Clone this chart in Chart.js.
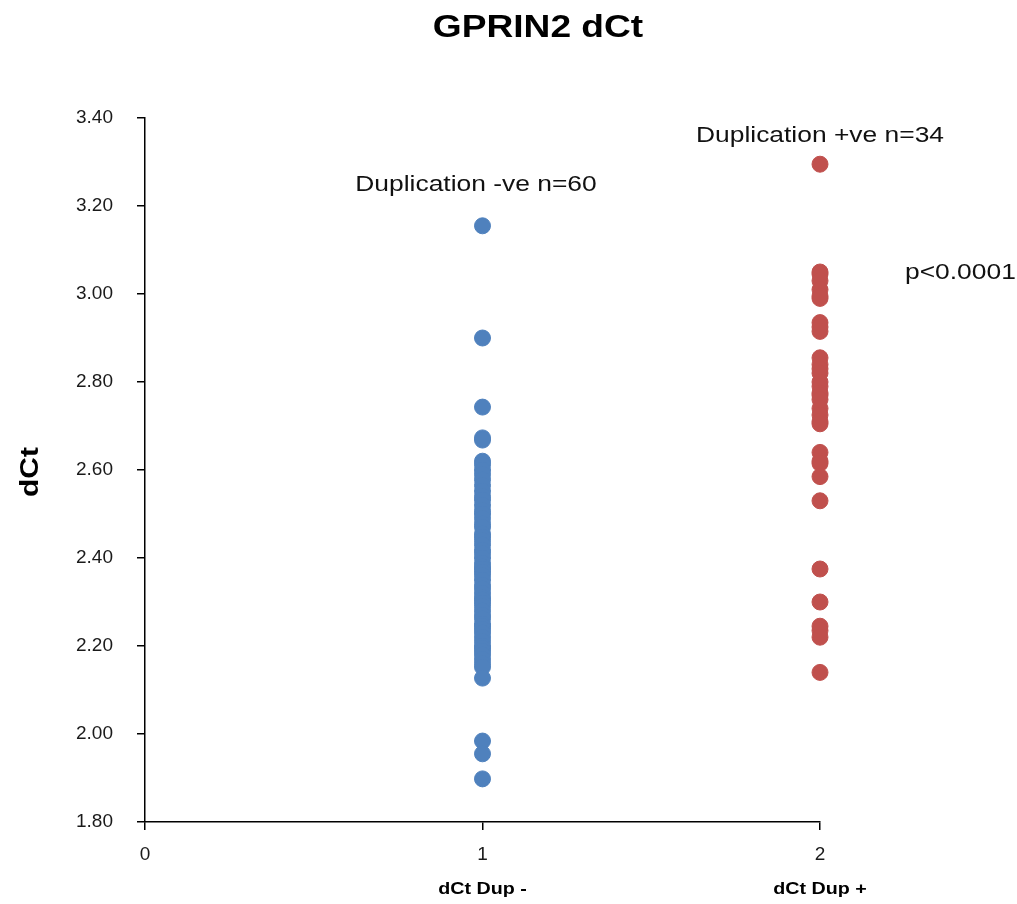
<!DOCTYPE html>
<html>
<head>
<meta charset="utf-8">
<script src="https://cdn.jsdelivr.net/npm/chart.js@4/dist/chart.umd.min.js"></script>
<style>
  html, body { margin: 0; padding: 0; background: #fff; }
  #wrap { width: 1017px; height: 904px; }
</style>
</head>
<body>
<div id="wrap"><canvas id="grafico" width="1017" height="904"></canvas></div>
<script>
const categorias = ['dCt Dup -', 'dCt Dup +'];
const rotulosX = ['0', '1', '2'];
const anotacoes = ['Duplication -ve n=60', 'Duplication +ve n=34', 'p<0.0001'];

const dupNeg = [
  3.155, 2.90, 2.743, 2.673, 2.668,
  2.62, 2.612, 2.60, 2.59, 2.578, 2.565, 2.552, 2.54, 2.532, 2.52,
  2.508, 2.50, 2.49, 2.478, 2.47, 2.455, 2.448, 2.44, 2.43, 2.418,
  2.41, 2.40, 2.388, 2.38, 2.375, 2.368, 2.36, 2.35, 2.338, 2.33,
  2.32, 2.31, 2.305, 2.298, 2.29, 2.28, 2.27, 2.262, 2.25, 2.245,
  2.238, 2.23, 2.22, 2.21, 2.20, 2.195, 2.188, 2.18, 2.17, 2.16, 2.152,
  2.127, 1.984, 1.955, 1.898
];
const dupPos = [
  3.295, 3.05, 3.045, 3.03, 3.01, 2.995, 2.99, 2.935, 2.925, 2.915,
  2.855, 2.84, 2.83, 2.82, 2.80, 2.79, 2.775, 2.77, 2.76, 2.74,
  2.725, 2.71, 2.705, 2.64, 2.62, 2.615, 2.585, 2.53, 2.375, 2.30,
  2.245, 2.235, 2.22, 2.14
];

const fonte = '"Liberation Sans", Arial, sans-serif';
const corTexto = '#1a1a1a';

// texto esticado na horizontal, como no original
function textoLargo(ctx, txt, x, y, esc) {
  ctx.save();
  ctx.translate(x, y);
  ctx.scale(esc, 1);
  ctx.fillText(txt, 0, 0);
  ctx.restore();
}

const textosExtras = {
  id: 'textosExtras',
  afterDraw(chart) {
    const ctx = chart.ctx;
    const sx = chart.scales.x;
    ctx.save();
    ctx.fillStyle = '#000';
    ctx.textAlign = 'center';
    ctx.textBaseline = 'middle';
    ctx.font = 'bold 32px ' + fonte;
    textoLargo(ctx, 'GPRIN2 dCt', 538, 28, 1.16);

    ctx.save();
    ctx.translate(31, 472);
    ctx.rotate(-Math.PI / 2);
    ctx.font = 'bold 26px ' + fonte;
    textoLargo(ctx, 'dCt', 0, 0, 1.15);
    ctx.restore();

    ctx.font = 'bold 16px ' + fonte;
    categorias.forEach((c, i) => {
      textoLargo(ctx, c, sx.getPixelForValue(i + 1), 890, 1.23);
    });

    ctx.fillStyle = '#111';
    ctx.font = '22px ' + fonte;
    textoLargo(ctx, anotacoes[0], 476, 185, 1.2);
    textoLargo(ctx, anotacoes[1], 820, 136, 1.2);
    ctx.textAlign = 'left';
    textoLargo(ctx, anotacoes[2], 905, 273, 1.2);
    ctx.restore();
  }
};

new Chart(document.getElementById('grafico'), {
  type: 'scatter',
  data: {
    datasets: [
      {
        label: categorias[0],
        data: dupNeg.map(v => ({ x: 1, y: v })),
        backgroundColor: '#4F81BD',
        borderColor: '#4F81BD',
        pointRadius: 8,
        pointHoverRadius: 8,
        clip: false
      },
      {
        label: categorias[1],
        data: dupPos.map(v => ({ x: 2, y: v })),
        backgroundColor: '#C0504D',
        borderColor: '#C0504D',
        pointRadius: 8,
        pointHoverRadius: 8,
        clip: false
      }
    ]
  },
  options: {
    responsive: false,
    animation: false,
    layout: { padding: { top: 118, right: 197, left: 0, bottom: 0 } },
    plugins: {
      legend: { display: false },
      tooltip: { enabled: false }
    },
    scales: {
      x: {
        type: 'linear',
        min: 0,
        max: 2,
        afterFit: s => { s.height = 82; },
        ticks: {
          stepSize: 1,
          padding: 13,
          color: corTexto,
          font: { family: fonte, size: 19 },
          callback: (v) => rotulosX[v]
        },
        grid: { display: true, drawOnChartArea: false, drawTicks: true, tickLength: 8, color: '#000', lineWidth: 1.5 },
        border: { display: true, color: '#000', width: 1.5 }
      },
      y: {
        min: 1.8,
        max: 3.4,
        afterFit: s => { s.width = 145; },
        ticks: {
          stepSize: 0.2,
          padding: 24,
          color: corTexto,
          font: { family: fonte, size: 19 },
          callback: v => Number(v).toFixed(2)
        },
        grid: { display: true, drawOnChartArea: false, drawTicks: true, tickLength: 8, color: '#000', lineWidth: 1.5 },
        border: { display: true, color: '#000', width: 1.5 }
      }
    }
  },
  plugins: [textosExtras]
});
</script>
</body>
</html>
